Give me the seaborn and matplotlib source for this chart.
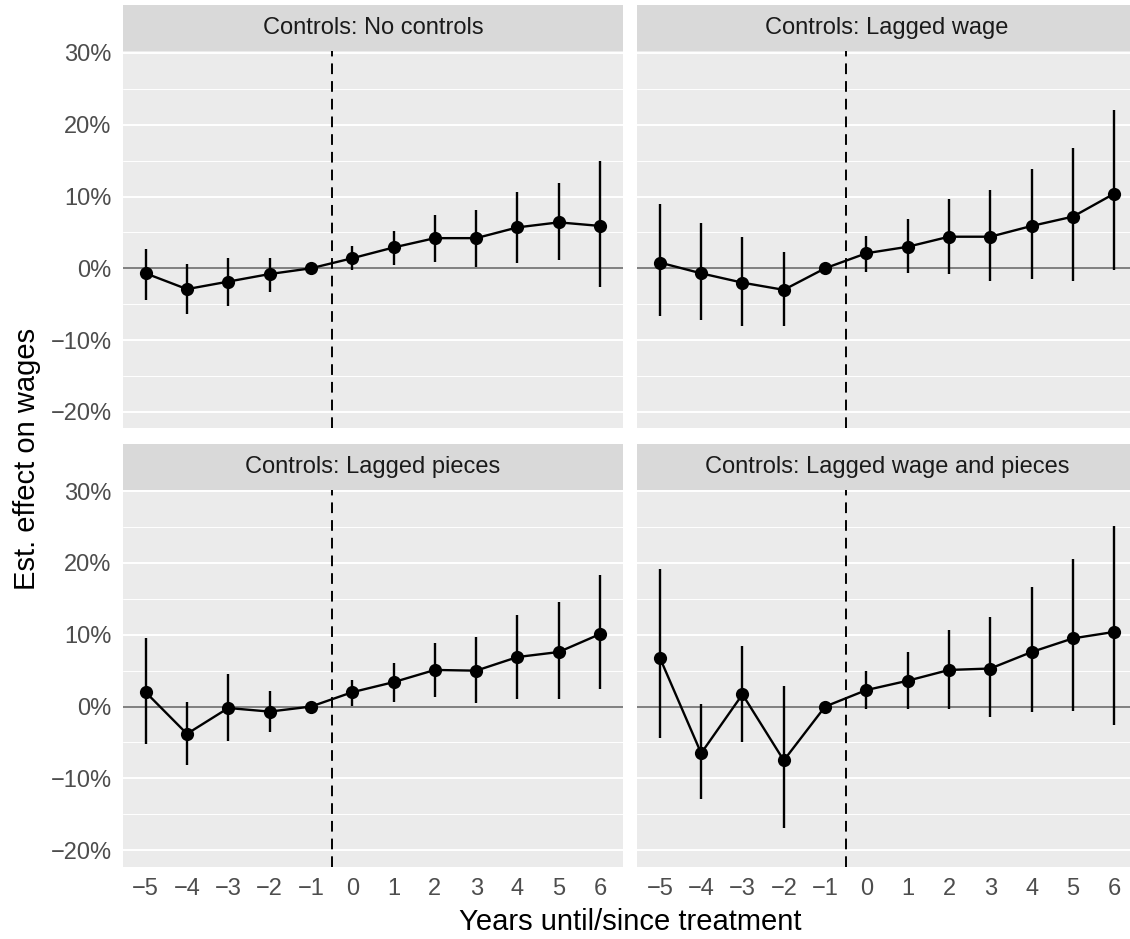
import numpy as np
import pandas as pd
import matplotlib
matplotlib.use('Agg')
import matplotlib.pyplot as plt
import seaborn as sns
from matplotlib.patches import Rectangle
from matplotlib.ticker import MultipleLocator, FuncFormatter

# data (percent)
years = list(range(-5, 7))
panels = ['Controls: No controls', 'Controls: Lagged wage',
          'Controls: Lagged pieces', 'Controls: Lagged wage and pieces']

est_none = [-0.7, -2.9, -1.85, -0.8, 0.0, 1.4, 2.9, 4.2, 4.2, 5.7, 6.4, 5.9]
lo_none = [-4.4, -6.3, -5.2, -3.3, 0.0, -0.3, 0.5, 0.9, 0.2, 0.8, 1.1, -2.6]
hi_none = [2.7, 0.55, 1.5, 1.5, 0.0, 3.1, 5.2, 7.4, 8.1, 10.6, 11.9, 15.0]

est_wage = [0.8, -0.7, -2.0, -3.0, 0.0, 2.1, 3.0, 4.4, 4.4, 5.9, 7.2, 10.4]
lo_wage = [-6.7, -7.2, -8.0, -8.1, 0.0, -0.5, -0.7, -0.8, -1.7, -1.5, -1.7, -0.2]
hi_wage = [8.9, 6.25, 4.4, 2.3, 0.0, 4.5, 6.85, 9.6, 10.9, 13.8, 16.8, 22.1]

est_pieces = [2.0, -3.8, -0.2, -0.7, 0.0, 2.0, 3.4, 5.1, 5.0, 6.9, 7.6, 10.1]
lo_pieces = [-5.2, -8.1, -4.8, -3.6, 0.0, 0.1, 0.7, 1.4, 0.5, 1.1, 1.1, 2.5]
hi_pieces = [9.5, 0.6, 4.5, 2.2, 0.0, 3.7, 6.1, 8.8, 9.7, 12.7, 14.5, 18.3]

est_both = [6.8, -6.5, 1.7, -7.5, 0.0, 2.3, 3.6, 5.1, 5.3, 7.6, 9.5, 10.4]
lo_both = [-4.4, -12.9, -4.9, -16.9, 0.0, -0.3, -0.3, -0.3, -1.5, -0.8, -0.6, -2.6]
hi_both = [19.1, 0.3, 8.5, 2.9, 0.0, 4.9, 7.6, 10.7, 12.5, 16.6, 20.6, 25.1]

series = {
    panels[0]: (est_none, lo_none, hi_none),
    panels[1]: (est_wage, lo_wage, hi_wage),
    panels[2]: (est_pieces, lo_pieces, hi_pieces),
    panels[3]: (est_both, lo_both, hi_both),
}
frames = []
for name, (e, l, h) in series.items():
    frames.append(pd.DataFrame({'panel': name, 'year': years, 'est': e, 'lo': l, 'hi': h}))
df = pd.concat(frames, ignore_index=True)

sns.set_theme(style='darkgrid')
plt.rcParams['font.family'] = ['Liberation Sans', 'DejaVu Sans']
plt.rcParams['axes.unicode_minus'] = True

fig, axes = plt.subplots(2, 2, figsize=(11.3, 9.39), dpi=100, sharex=True, sharey=True)
fig.subplots_adjust(left=0.1088, right=1.0062, bottom=0.077, top=0.9452,
                    wspace=0.0286, hspace=0.1626)

pct = FuncFormatter(lambda v, p: f'{v:.0f}%'.replace('-', '\u2212'))
strip_h = 46 / 377

for i, (ax, name) in enumerate(zip(axes.flat, panels)):
    d = df[df['panel'] == name]
    ax.set_facecolor('#ebebeb')
    ax.axhline(0, color='#7f7f7f', lw=1.4, zorder=1)
    ax.axvline(-0.5, color='black', lw=1.4, ls=(0, (5.5, 3.6)), zorder=2)
    ax.vlines(d['year'], d['lo'], d['hi'], color='black', lw=1.7, zorder=3)
    sns.lineplot(data=d, x='year', y='est', color='black', lw=1.7, marker='o',
                 markersize=9.5, markeredgewidth=0, errorbar=None, ax=ax, zorder=4)

    ax.set_xlim(-5.55, 6.55)
    ax.set_ylim(-22.3, 30.2)
    ax.set_xticks(years)
    ax.set_xticklabels([str(y).replace('-', '\u2212') for y in years])
    ax.yaxis.set_major_locator(MultipleLocator(10))
    ax.yaxis.set_minor_locator(MultipleLocator(5))
    ax.yaxis.set_major_formatter(pct)
    ax.grid(False)
    ax.grid(which='major', axis='y', color='white', lw=1.4)
    ax.grid(which='minor', axis='y', color='white', lw=0.7)
    for s in ax.spines.values():
        s.set_visible(False)
    ax.set_xlabel('')
    ax.set_ylabel('')
    ax.tick_params(which='major', length=5.2, width=1.1, color='#333333',
                   labelsize=17, labelcolor='#4d4d4d', pad=3)
    ax.tick_params(which='minor', length=0)
    if i < 2:
        ax.tick_params(axis='x', length=0)
    if i % 2 == 1:
        ax.tick_params(axis='y', length=0)

    ax.add_patch(Rectangle((0, 1.0), 1, strip_h, transform=ax.transAxes,
                           facecolor='#d9d9d9', edgecolor='none', clip_on=False))
    ax.text(0.5, 1 + strip_h / 2, name, transform=ax.transAxes, ha='center',
            va='center', fontsize=17, color='#1a1a1a')

fig.text(0.5575, 0.0185, 'Years until/since treatment', ha='center', va='center',
         fontsize=21, color='black')
fig.text(0.024, 0.511, 'Est. effect on wages', ha='center', va='center',
         rotation=90, fontsize=21, color='black')

plt.savefig('out.png', dpi=100)
plt.close()
